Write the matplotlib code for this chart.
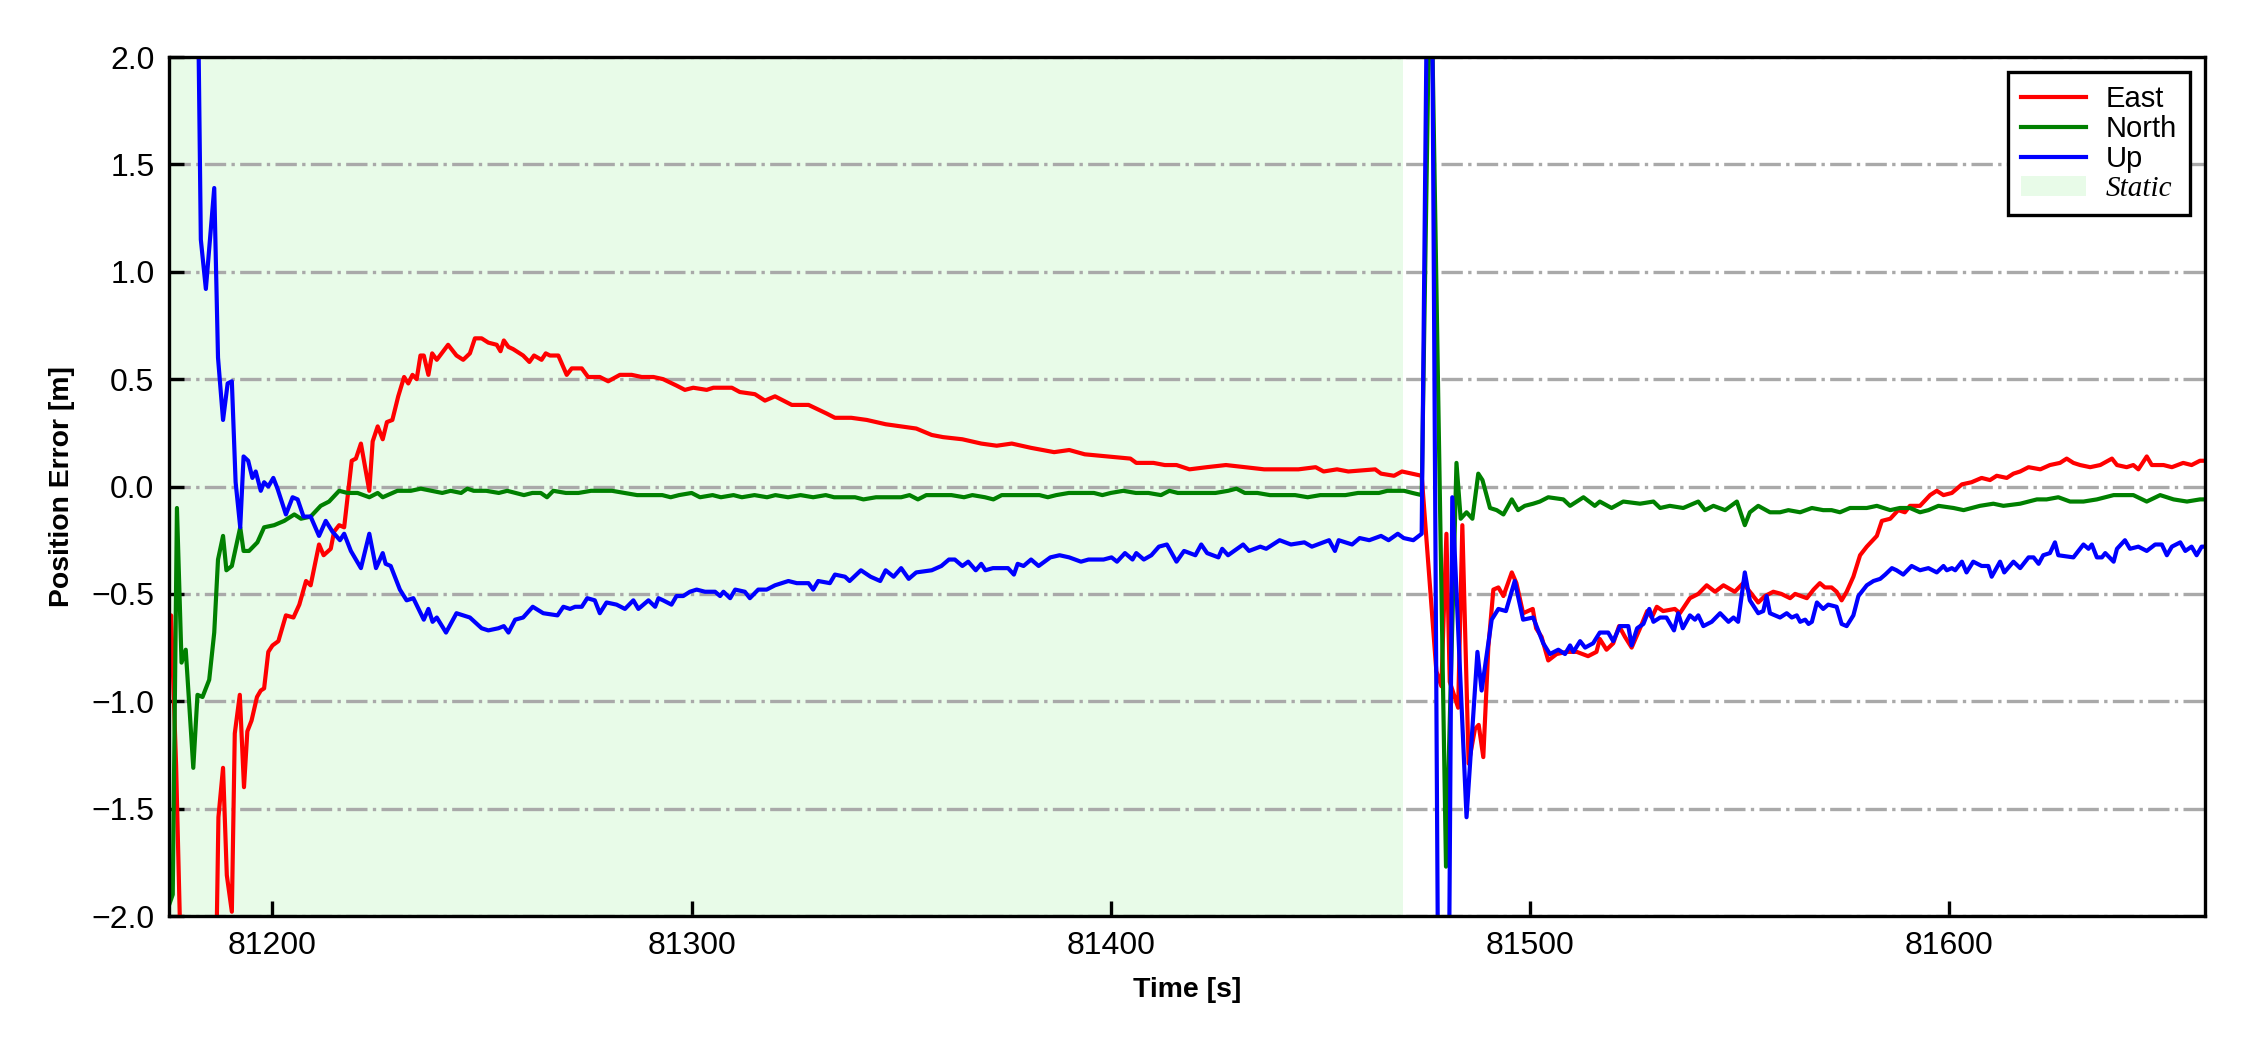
import matplotlib
matplotlib.use("Agg")
import matplotlib.pyplot as plt


# east error (red)
east_t = [81175.3, 81175.8, 81177.0, 81178.0, 81180.0, 81184.0, 81186.5, 81187.1, 81188.2, 81189.1,
          81190.3, 81191.0, 81192.2, 81193.2, 81194.0, 81195.0, 81196.3, 81197.2, 81198.0, 81199.0,
          81200.0, 81201.4, 81203.2, 81205.0, 81206.4, 81208.0, 81209.1, 81211.1, 81212.2, 81213.9,
          81214.7, 81215.9, 81217.1, 81218.1, 81218.9, 81219.9, 81221.1, 81223.1, 81223.9, 81225.1,
          81226.3, 81227.3, 81228.6, 81230.0, 81231.4, 81232.4, 81233.4, 81234.4, 81235.3, 81236.1,
          81237.2, 81238.1, 81239.2, 81241.9, 81243.9, 81245.5, 81247.1, 81248.3, 81249.9, 81251.5,
          81253.5, 81254.4, 81255.2, 81256.3, 81257.4, 81259.8, 81261.3, 81262.4, 81264.2, 81265.2,
          81266.2, 81268.2, 81270.2, 81271.4, 81273.8, 81275.3, 81278.1, 81280.1, 81282.9, 81285.7,
          81288.1, 81290.9, 81293.2, 81296.4, 81298.4, 81300.4, 81303.6, 81305.2, 81309.6, 81311.5,
          81315.1, 81317.5, 81319.9, 81323.9, 81325.9, 81327.9, 81332.2, 81334.2, 81337.0, 81338.1,
          81341.8, 81346.3, 81350.0, 81353.6, 81357.3, 81360.0, 81364.6, 81369.1, 81372.8, 81376.4,
          81381.0, 81386.5, 81390.1, 81393.8, 81399.2, 81404.7, 81406.1, 81410.2, 81412.9, 81415.7,
          81418.8, 81422.9, 81427.5, 81432.1, 81436.6, 81441.2, 81444.8, 81448.9, 81450.8, 81454.0,
          81456.7, 81463.1, 81464.5, 81467.6, 81469.5, 81474.2, 81477.7, 81478.9, 81480.1, 81480.9,
          81482.9, 81483.9, 81485.4, 81486.9, 81487.8, 81488.9, 81490.1, 81491.3, 81492.5, 81493.7,
          81495.7, 81496.8, 81498.4, 81500.7, 81501.5, 81502.8, 81504.4, 81506.4, 81508.8, 81511.2,
          81513.9, 81515.9, 81516.7, 81518.3, 81519.9, 81521.3, 81522.7, 81524.3, 81526.3, 81528.0,
          81529.1, 81530.3, 81531.8, 81534.6, 81535.8, 81538.2, 81540.2, 81542.2, 81544.2, 81546.2,
          81548.9, 81550.9, 81552.5, 81554.5, 81556.1, 81558.1, 81560.0, 81562.1, 81563.3, 81566.1,
          81567.7, 81569.2, 81570.4, 81572.0, 81573.2, 81574.4, 81575.6, 81577.2, 81578.8, 81580.4,
          81582.8, 81584.0, 81586.0, 81587.9, 81589.5, 81590.7, 81593.1, 81595.5, 81597.1, 81598.7,
          81600.7, 81603.1, 81605.4, 81607.8, 81609.8, 81611.4, 81613.8, 81615.4, 81617.0, 81619.0,
          81621.8, 81624.1, 81626.5, 81628.1, 81629.7, 81631.3, 81633.7, 81636.1, 81638.9, 81640.1,
          81642.4, 81644.0, 81645.2, 81647.2, 81648.4, 81651.2, 81653.2, 81655.9, 81657.9, 81659.9,
          81661.1]
east = [-0.85, -0.60, -1.30, -2.10, -3.00, -3.20, -2.30, -1.54, -1.31, -1.81,
        -1.98, -1.15, -0.97, -1.40, -1.14, -1.09, -0.98, -0.95, -0.94, -0.77,
        -0.74, -0.72, -0.60, -0.61, -0.55, -0.44, -0.46, -0.27, -0.32, -0.29,
        -0.21, -0.18, -0.19, -0.02, 0.12, 0.13, 0.20, -0.02, 0.21, 0.28,
        0.22, 0.30, 0.31, 0.42, 0.51, 0.48, 0.52, 0.50, 0.61, 0.61,
        0.52, 0.62, 0.59, 0.66, 0.61, 0.59, 0.62, 0.69, 0.69, 0.67,
        0.66, 0.63, 0.68, 0.65, 0.64, 0.61, 0.58, 0.61, 0.59, 0.62,
        0.61, 0.61, 0.52, 0.55, 0.55, 0.51, 0.51, 0.49, 0.52, 0.52,
        0.51, 0.51, 0.50, 0.47, 0.45, 0.46, 0.45, 0.46, 0.46, 0.44,
        0.43, 0.40, 0.42, 0.38, 0.38, 0.38, 0.34, 0.32, 0.32, 0.32,
        0.31, 0.29, 0.28, 0.27, 0.24, 0.23, 0.22, 0.20, 0.19, 0.20,
        0.18, 0.16, 0.17, 0.15, 0.14, 0.13, 0.11, 0.11, 0.10, 0.10,
        0.08, 0.09, 0.10, 0.09, 0.08, 0.08, 0.08, 0.09, 0.07, 0.08,
        0.07, 0.08, 0.06, 0.05, 0.07, 0.05, -0.86, -0.93, -0.22, -0.91,
        -1.03, -0.18, -1.29, -1.13, -1.11, -1.26, -0.75, -0.48, -0.47, -0.51,
        -0.40, -0.45, -0.59, -0.57, -0.66, -0.70, -0.81, -0.78, -0.77, -0.77,
        -0.79, -0.77, -0.71, -0.76, -0.73, -0.65, -0.70, -0.75, -0.66, -0.58,
        -0.61, -0.56, -0.58, -0.57, -0.59, -0.52, -0.50, -0.46, -0.49, -0.46,
        -0.49, -0.45, -0.49, -0.54, -0.51, -0.49, -0.50, -0.52, -0.50, -0.52,
        -0.48, -0.45, -0.47, -0.47, -0.49, -0.53, -0.49, -0.42, -0.32, -0.28,
        -0.23, -0.16, -0.15, -0.11, -0.12, -0.09, -0.09, -0.04, -0.02, -0.04,
        -0.03, 0.01, 0.02, 0.04, 0.03, 0.05, 0.04, 0.06, 0.07, 0.09,
        0.08, 0.10, 0.11, 0.13, 0.11, 0.10, 0.09, 0.10, 0.13, 0.10,
        0.09, 0.10, 0.08, 0.14, 0.10, 0.10, 0.09, 0.11, 0.10, 0.12,
        0.12]

# north error (green)
north_t = [81175.3, 81176.2, 81177.2, 81178.3, 81179.3, 81181.1, 81182.1, 81183.3, 81184.9, 81186.1,
           81187.0, 81188.2, 81189.0, 81190.3, 81192.3, 81193.1, 81194.4, 81196.4, 81198.0, 81200.4,
           81202.8, 81205.2, 81206.8, 81209.1, 81211.5, 81213.5, 81215.9, 81217.9, 81220.3, 81223.1,
           81225.1, 81226.3, 81229.8, 81233.0, 81235.4, 81238.0, 81240.5, 81242.5, 81245.0, 81246.5,
           81248.0, 81251.0, 81254.0, 81256.0, 81258.0, 81260.0, 81262.0, 81264.0, 81265.5, 81267.0,
           81270.0, 81273.0, 81276.0, 81279.0, 81281.0, 81284.0, 81287.0, 81290.0, 81293.0, 81295.0,
           81297.0, 81300.0, 81302.0, 81305.0, 81307.0, 81310.0, 81312.0, 81315.0, 81318.0, 81320.0,
           81323.0, 81326.0, 81329.0, 81332.0, 81334.0, 81337.0, 81339.0, 81341.0, 81344.0, 81347.0,
           81350.0, 81352.0, 81354.0, 81356.0, 81359.0, 81362.0, 81365.0, 81367.0, 81370.0, 81372.0,
           81374.0, 81377.0, 81380.0, 81383.0, 81385.0, 81387.0, 81390.0, 81393.0, 81396.0, 81398.0,
           81400.0, 81403.0, 81406.0, 81409.0, 81412.0, 81414.0, 81416.0, 81419.0, 81422.0, 81425.0,
           81428.0, 81430.0, 81432.0, 81435.0, 81438.0, 81441.0, 81444.0, 81447.0, 81450.0, 81453.0,
           81456.0, 81459.0, 81461.0, 81464.0, 81466.0, 81468.0, 81470.0, 81472.0, 81474.2, 81476.3,
           81480.0, 81482.5, 81483.5, 81484.9, 81486.3, 81487.7, 81488.7, 81490.5, 81492.1, 81493.7,
           81495.7, 81497.2, 81498.8, 81500.8, 81502.4, 81504.4, 81508.0, 81509.6, 81512.8, 81515.5,
           81516.7, 81519.5, 81522.3, 81526.3, 81529.5, 81531.1, 81533.4, 81536.6, 81540.2, 81541.8,
           81543.8, 81546.6, 81549.4, 81551.3, 81552.5, 81554.5, 81557.3, 81559.7, 81561.7, 81564.5,
           81567.3, 81570.0, 81572.0, 81574.0, 81576.4, 81580.4, 81582.8, 81586.0, 81588.3, 81590.7,
           81593.1, 81595.1, 81597.5, 81601.1, 81603.5, 81607.4, 81610.6, 81613.0, 81617.0, 81621.0,
           81623.3, 81626.1, 81628.9, 81632.1, 81635.3, 81639.3, 81640.9, 81644.0, 81647.2, 81650.4,
           81653.6, 81656.8, 81659.9, 81661.1]
north = [-1.95, -1.90, -0.10, -0.82, -0.76, -1.31, -0.97, -0.98, -0.90, -0.68,
         -0.34, -0.23, -0.39, -0.37, -0.19, -0.30, -0.30, -0.26, -0.19, -0.18,
         -0.16, -0.13, -0.15, -0.14, -0.09, -0.07, -0.02, -0.03, -0.03, -0.05,
         -0.03, -0.05, -0.02, -0.02, -0.01, -0.02, -0.03, -0.02, -0.03, -0.01,
         -0.02, -0.02, -0.03, -0.02, -0.03, -0.04, -0.03, -0.03, -0.05, -0.02,
         -0.03, -0.03, -0.02, -0.02, -0.02, -0.03, -0.04, -0.04, -0.04, -0.05,
         -0.04, -0.03, -0.05, -0.04, -0.05, -0.04, -0.05, -0.04, -0.05, -0.04,
         -0.05, -0.04, -0.05, -0.04, -0.05, -0.05, -0.05, -0.06, -0.05, -0.05,
         -0.05, -0.04, -0.06, -0.04, -0.04, -0.04, -0.05, -0.04, -0.05, -0.06,
         -0.04, -0.04, -0.04, -0.04, -0.05, -0.04, -0.03, -0.03, -0.03, -0.04,
         -0.03, -0.02, -0.03, -0.03, -0.04, -0.02, -0.03, -0.03, -0.03, -0.03,
         -0.02, -0.01, -0.03, -0.03, -0.04, -0.04, -0.04, -0.05, -0.04, -0.04,
         -0.04, -0.03, -0.03, -0.03, -0.02, -0.02, -0.02, -0.03, -0.04, 2.60,
         -1.77, 0.11, -0.15, -0.12, -0.15, 0.06, 0.03, -0.10, -0.11, -0.13,
         -0.06, -0.11, -0.09, -0.08, -0.07, -0.05, -0.06, -0.09, -0.05, -0.09,
         -0.07, -0.10, -0.07, -0.08, -0.07, -0.10, -0.09, -0.10, -0.07, -0.11,
         -0.09, -0.11, -0.07, -0.18, -0.12, -0.09, -0.12, -0.12, -0.11, -0.12,
         -0.10, -0.11, -0.11, -0.12, -0.10, -0.10, -0.09, -0.11, -0.10, -0.10,
         -0.12, -0.11, -0.09, -0.10, -0.11, -0.09, -0.08, -0.09, -0.08, -0.06,
         -0.06, -0.05, -0.07, -0.07, -0.06, -0.04, -0.04, -0.04, -0.07, -0.04,
         -0.06, -0.07, -0.06, -0.06]

# up error (blue)
up_t = [81175.3, 81178.0, 81181.5, 81182.9, 81184.1, 81186.1, 81187.0, 81188.2, 81189.3, 81190.3,
        81191.2, 81192.3, 81193.1, 81194.2, 81195.2, 81196.0, 81197.2, 81198.0, 81199.0, 81200.2,
        81201.2, 81203.2, 81204.8, 81206.0, 81207.4, 81209.1, 81211.1, 81212.7, 81214.3, 81216.1,
        81217.1, 81218.7, 81221.1, 81223.1, 81224.7, 81226.3, 81227.0, 81228.2, 81230.4, 81232.0,
        81233.6, 81236.1, 81237.2, 81238.2, 81239.2, 81241.4, 81243.9, 81247.1, 81249.9, 81251.5,
        81253.9, 81255.2, 81256.3, 81257.9, 81259.8, 81262.1, 81264.6, 81268.0, 81269.4, 81271.0,
        81272.2, 81273.8, 81275.1, 81276.9, 81278.1, 81279.7, 81282.1, 81284.1, 81286.1, 81287.3,
        81289.7, 81291.3, 81292.1, 81293.2, 81295.2, 81296.4, 81298.0, 81299.6, 81301.2, 81303.2,
        81305.6, 81306.8, 81307.6, 81309.2, 81310.4, 81312.7, 81313.9, 81315.9, 81317.9, 81319.9,
        81321.5, 81323.1, 81325.1, 81327.9, 81329.0, 81330.2, 81333.0, 81334.2, 81336.6, 81337.7,
        81340.4, 81342.7, 81345.0, 81346.3, 81348.2, 81350.0, 81351.8, 81353.6, 81357.3, 81359.6,
        81361.4, 81362.8, 81364.6, 81366.0, 81367.8, 81369.1, 81370.1, 81371.9, 81375.5, 81376.9,
        81377.8, 81379.2, 81381.0, 81382.8, 81385.6, 81387.8, 81390.1, 81392.9, 81394.7, 81398.3,
        81400.2, 81401.5, 81403.4, 81405.2, 81406.1, 81407.9, 81409.7, 81411.5, 81413.4, 81415.7,
        81417.5, 81420.2, 81421.6, 81423.0, 81425.7, 81426.6, 81428.0, 81431.6, 81433.0, 81435.7,
        81437.1, 81440.3, 81443.0, 81446.2, 81448.0, 81452.1, 81453.5, 81454.4, 81457.6, 81459.4,
        81461.7, 81464.5, 81466.3, 81468.5, 81469.9, 81472.2, 81474.2, 81475.6, 81476.6, 81478.2,
        81480.6, 81481.5, 81484.9, 81487.5, 81488.5, 81490.9, 81492.5, 81494.3, 81496.4, 81498.4,
        81500.8, 81503.2, 81504.8, 81506.8, 81508.4, 81509.6, 81510.4, 81512.0, 81513.2, 81515.1,
        81516.7, 81518.7, 81519.9, 81521.5, 81523.5, 81524.3, 81525.6, 81527.1, 81528.5, 81529.5,
        81531.1, 81532.6, 81534.4, 81535.4, 81536.5, 81538.2, 81539.4, 81540.2, 81541.4, 81543.4,
        81545.4, 81547.4, 81548.6, 81549.7, 81551.3, 81552.5, 81554.5, 81555.7, 81556.5, 81557.3,
        81559.7, 81561.3, 81562.5, 81563.7, 81564.5, 81565.7, 81566.5, 81567.3, 81568.5, 81570.0,
        81571.2, 81573.2, 81574.4, 81575.6, 81577.2, 81578.4, 81580.4, 81582.0, 81583.6, 81584.8,
        81586.4, 81587.5, 81589.1, 81591.1, 81593.1, 81595.1, 81597.1, 81598.7, 81599.5, 81600.7,
        81601.5, 81603.1, 81604.2, 81605.8, 81607.8, 81609.4, 81610.2, 81612.2, 81613.2, 81615.4,
        81617.0, 81619.0, 81620.2, 81621.4, 81622.5, 81624.1, 81625.3, 81626.1, 81629.7, 81632.1,
        81633.3, 81634.1, 81635.3, 81636.5, 81637.3, 81639.3, 81640.1, 81642.0, 81643.2, 81645.2,
        81647.2, 81649.2, 81650.8, 81652.0, 81653.2, 81655.2, 81656.4, 81657.9, 81659.1, 81660.3,
        81661.1]
up = [5.00, 4.20, 3.50, 1.15, 0.92, 1.39, 0.60, 0.31, 0.48, 0.49,
      0.02, -0.19, 0.14, 0.12, 0.04, 0.07, -0.02, 0.02, 0.00, 0.04,
      -0.01, -0.13, -0.05, -0.06, -0.14, -0.14, -0.23, -0.16, -0.21, -0.25,
      -0.22, -0.30, -0.38, -0.22, -0.38, -0.31, -0.36, -0.37, -0.48, -0.53,
      -0.52, -0.62, -0.57, -0.63, -0.61, -0.68, -0.59, -0.61, -0.66, -0.67,
      -0.66, -0.65, -0.68, -0.62, -0.61, -0.56, -0.59, -0.60, -0.56, -0.57,
      -0.56, -0.56, -0.52, -0.53, -0.59, -0.54, -0.55, -0.57, -0.53, -0.57,
      -0.53, -0.56, -0.52, -0.53, -0.55, -0.51, -0.51, -0.49, -0.48, -0.49,
      -0.49, -0.51, -0.49, -0.52, -0.48, -0.49, -0.52, -0.48, -0.48, -0.46,
      -0.45, -0.44, -0.45, -0.45, -0.48, -0.44, -0.45, -0.41, -0.42, -0.44,
      -0.39, -0.42, -0.44, -0.39, -0.42, -0.38, -0.43, -0.40, -0.39, -0.37,
      -0.34, -0.34, -0.37, -0.35, -0.39, -0.36, -0.39, -0.38, -0.38, -0.41,
      -0.36, -0.37, -0.34, -0.37, -0.33, -0.32, -0.33, -0.35, -0.34, -0.34,
      -0.33, -0.35, -0.31, -0.34, -0.31, -0.34, -0.32, -0.28, -0.27, -0.35,
      -0.30, -0.32, -0.27, -0.31, -0.33, -0.29, -0.32, -0.27, -0.30, -0.28,
      -0.29, -0.25, -0.27, -0.26, -0.28, -0.25, -0.30, -0.25, -0.27, -0.24,
      -0.25, -0.23, -0.25, -0.22, -0.24, -0.25, -0.22, 2.60, 2.60, -2.60,
      -2.60, -0.05, -1.54, -0.77, -0.95, -0.62, -0.57, -0.58, -0.44, -0.62,
      -0.61, -0.73, -0.78, -0.76, -0.78, -0.74, -0.77, -0.72, -0.75, -0.73,
      -0.68, -0.68, -0.72, -0.65, -0.65, -0.74, -0.66, -0.64, -0.57, -0.63,
      -0.61, -0.61, -0.67, -0.59, -0.66, -0.60, -0.62, -0.60, -0.65, -0.63,
      -0.59, -0.63, -0.61, -0.63, -0.40, -0.53, -0.59, -0.58, -0.51, -0.59,
      -0.61, -0.59, -0.61, -0.60, -0.63, -0.62, -0.64, -0.63, -0.54, -0.57,
      -0.55, -0.56, -0.64, -0.65, -0.60, -0.51, -0.46, -0.44, -0.43, -0.41,
      -0.38, -0.39, -0.41, -0.37, -0.39, -0.38, -0.40, -0.37, -0.39, -0.38,
      -0.39, -0.35, -0.40, -0.35, -0.37, -0.37, -0.42, -0.35, -0.40, -0.35,
      -0.38, -0.33, -0.33, -0.36, -0.32, -0.31, -0.26, -0.32, -0.33, -0.27,
      -0.29, -0.27, -0.33, -0.33, -0.31, -0.35, -0.29, -0.25, -0.29, -0.28,
      -0.30, -0.27, -0.27, -0.32, -0.28, -0.26, -0.30, -0.28, -0.32, -0.28,
      -0.28]

static_start = 81175.3
static_end = 81469.8

x_ticks = [81200, 81300, 81400, 81500, 81600]
y_ticks = [-2.0, -1.5, -1.0, -0.5, 0.0, 0.5, 1.0, 1.5, 2.0]

plt.rcParams['font.family'] = ['Liberation Sans', 'DejaVu Sans']

fig = plt.figure(figsize=(7.5, 3.5), dpi=300)
ax = fig.add_axes([0.0751, 0.1276, 0.9049, 0.8181])

ax.axvspan(static_start, static_end, color='lightgreen', alpha=0.2, lw=0, label='Static', zorder=0)
ax.plot(east_t, east, color='red', lw=1.0, label='East')
ax.plot(north_t, north, color='green', lw=1.0, label='North')
ax.plot(up_t, up, color='blue', lw=1.0, label='Up')

ax.set_xlim(81175.3, 81661.1)
ax.set_ylim(-2.0, 2.0)
ax.set_xticks(x_ticks)
ax.set_yticks(y_ticks)
ax.tick_params(direction='in', labelsize=7.7, length=3.5, width=0.8)
ax.grid(axis='y', linestyle='-.', color='darkgray', lw=0.8)

ax.set_xlabel('Time [s]', fontsize=6.8, fontweight='bold')
ax.set_ylabel('Position Error [m]', fontsize=6.8, fontweight='bold')

handles, labels = ax.get_legend_handles_labels()
# static patch goes last in the legend
order = [1, 2, 3, 0]
leg = ax.legend([handles[i] for i in order], [labels[i] for i in order],
                loc='upper right', fontsize=7, fancybox=False, framealpha=1,
                edgecolor='black', handlelength=2.2, labelspacing=0.08,
                borderpad=0.45, handletextpad=0.7)
leg.get_frame().set_linewidth(0.8)
leg.get_texts()[3].set_fontfamily(['Liberation Serif', 'DejaVu Serif'])
leg.get_texts()[3].set_fontstyle('italic')

plt.savefig('out.png', dpi=300)
